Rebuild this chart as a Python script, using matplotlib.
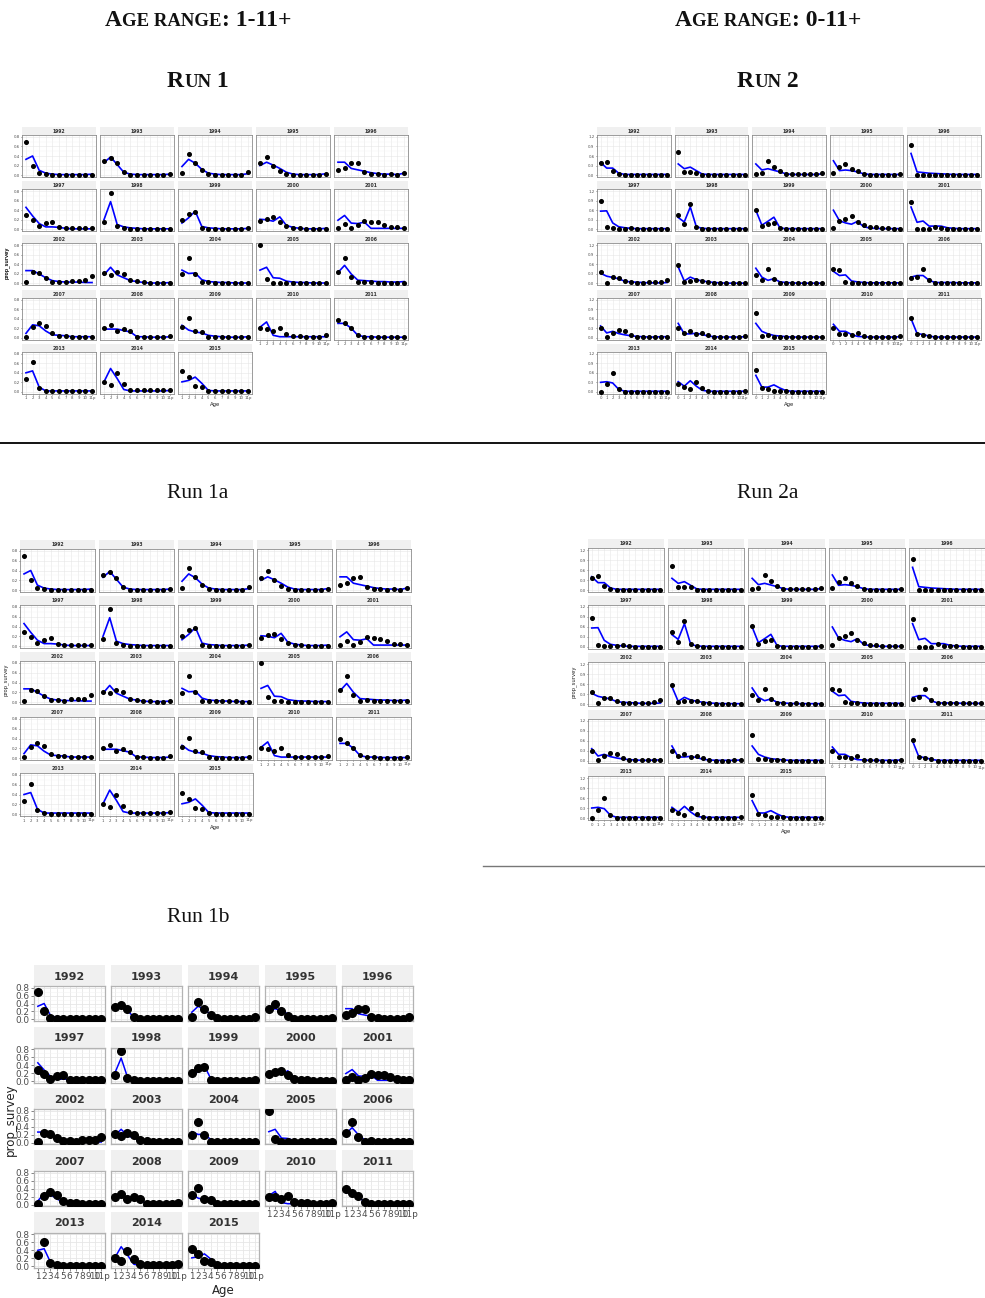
import matplotlib
matplotlib.use("Agg")
import matplotlib.pyplot as plt
import numpy as np

W, H = 985, 1298
DPI = 100

# facet years (2012 is missing in the survey)
years = [1992, 1993, 1994, 1995, 1996, 1997, 1998, 1999, 2000, 2001,
         2002, 2003, 2004, 2005, 2006, 2007, 2008, 2009, 2010, 2011,
         2013, 2014, 2015]

ages_run1 = ["1", "2", "3", "4", "5", "6", "7", "8", "9", "10", "11p"]
ages_run2 = ["0", "1", "2", "3", "4", "5", "6", "7", "8", "9", "10", "11p"]

# observed survey proportions, age range 1-11+ (one row per year)
obs_run1 = [
    [0.70, 0.20, 0.04, 0.02, 0.01, 0.01, 0.01, 0.01, 0.01, 0.01, 0.01],
    [0.30, 0.36, 0.25, 0.06, 0.01, 0.01, 0.01, 0.01, 0.01, 0.01, 0.02],
    [0.05, 0.45, 0.26, 0.10, 0.03, 0.01, 0.01, 0.01, 0.01, 0.01, 0.06],
    [0.25, 0.38, 0.20, 0.09, 0.02, 0.01, 0.01, 0.01, 0.01, 0.01, 0.03],
    [0.10, 0.15, 0.25, 0.26, 0.06, 0.03, 0.02, 0.01, 0.02, 0.01, 0.05],
    [0.29, 0.19, 0.06, 0.13, 0.16, 0.04, 0.03, 0.02, 0.02, 0.02, 0.02],
    [0.15, 0.75, 0.07, 0.02, 0.01, 0.01, 0.01, 0.01, 0.01, 0.01, 0.01],
    [0.20, 0.32, 0.36, 0.03, 0.01, 0.01, 0.01, 0.01, 0.01, 0.01, 0.03],
    [0.17, 0.22, 0.25, 0.15, 0.06, 0.03, 0.02, 0.01, 0.01, 0.01, 0.01],
    [0.02, 0.11, 0.03, 0.09, 0.18, 0.16, 0.15, 0.10, 0.05, 0.04, 0.02],
    [0.03, 0.24, 0.22, 0.12, 0.04, 0.04, 0.03, 0.06, 0.06, 0.07, 0.15],
    [0.21, 0.18, 0.24, 0.20, 0.07, 0.05, 0.03, 0.02, 0.01, 0.01, 0.02],
    [0.19, 0.53, 0.20, 0.03, 0.03, 0.02, 0.02, 0.02, 0.02, 0.01, 0.01],
    [0.80, 0.10, 0.02, 0.02, 0.01, 0.01, 0.01, 0.01, 0.01, 0.01, 0.01],
    [0.24, 0.53, 0.14, 0.03, 0.04, 0.03, 0.02, 0.02, 0.02, 0.02, 0.02],
    [0.02, 0.22, 0.31, 0.25, 0.09, 0.04, 0.04, 0.02, 0.02, 0.02, 0.02],
    [0.20, 0.26, 0.15, 0.18, 0.13, 0.02, 0.02, 0.01, 0.01, 0.01, 0.04],
    [0.23, 0.42, 0.14, 0.12, 0.02, 0.01, 0.01, 0.01, 0.01, 0.01, 0.02],
    [0.20, 0.19, 0.15, 0.21, 0.07, 0.03, 0.03, 0.02, 0.02, 0.02, 0.05],
    [0.38, 0.30, 0.21, 0.06, 0.02, 0.02, 0.01, 0.01, 0.01, 0.01, 0.02],
    [0.27, 0.62, 0.08, 0.02, 0.01, 0.01, 0.01, 0.01, 0.01, 0.01, 0.01],
    [0.20, 0.14, 0.39, 0.17, 0.05, 0.03, 0.03, 0.03, 0.03, 0.03, 0.05],
    [0.43, 0.31, 0.13, 0.11, 0.02, 0.01, 0.01, 0.01, 0.01, 0.01, 0.01],
]

# model fit, age range 1-11+
fit_run1 = [
    [0.33, 0.40, 0.10, 0.04, 0.02, 0.01, 0.01, 0.01, 0.01, 0.01, 0.02],
    [0.26, 0.38, 0.22, 0.06, 0.02, 0.01, 0.01, 0.01, 0.01, 0.01, 0.02],
    [0.18, 0.33, 0.25, 0.12, 0.04, 0.02, 0.01, 0.01, 0.01, 0.01, 0.03],
    [0.20, 0.27, 0.21, 0.14, 0.06, 0.02, 0.01, 0.01, 0.01, 0.01, 0.03],
    [0.27, 0.27, 0.14, 0.11, 0.08, 0.05, 0.03, 0.02, 0.02, 0.01, 0.04],
    [0.46, 0.28, 0.12, 0.05, 0.05, 0.04, 0.02, 0.01, 0.01, 0.01, 0.01],
    [0.20, 0.58, 0.10, 0.05, 0.03, 0.02, 0.01, 0.01, 0.01, 0.01, 0.01],
    [0.13, 0.24, 0.38, 0.06, 0.03, 0.02, 0.01, 0.01, 0.01, 0.01, 0.02],
    [0.21, 0.20, 0.17, 0.26, 0.08, 0.04, 0.02, 0.01, 0.01, 0.01, 0.02],
    [0.19, 0.29, 0.13, 0.12, 0.15, 0.02, 0.02, 0.02, 0.02, 0.02, 0.02],
    [0.27, 0.27, 0.20, 0.12, 0.06, 0.04, 0.03, 0.03, 0.03, 0.02, 0.02],
    [0.18, 0.34, 0.18, 0.12, 0.06, 0.04, 0.02, 0.01, 0.01, 0.01, 0.02],
    [0.28, 0.21, 0.22, 0.08, 0.04, 0.03, 0.02, 0.02, 0.01, 0.01, 0.01],
    [0.28, 0.34, 0.12, 0.11, 0.05, 0.03, 0.02, 0.02, 0.01, 0.01, 0.01],
    [0.23, 0.38, 0.20, 0.07, 0.06, 0.05, 0.04, 0.04, 0.03, 0.03, 0.04],
    [0.09, 0.27, 0.25, 0.14, 0.06, 0.05, 0.04, 0.02, 0.02, 0.02, 0.02],
    [0.18, 0.18, 0.18, 0.15, 0.12, 0.02, 0.02, 0.01, 0.01, 0.01, 0.02],
    [0.26, 0.16, 0.12, 0.10, 0.05, 0.03, 0.02, 0.01, 0.01, 0.01, 0.02],
    [0.22, 0.33, 0.05, 0.02, 0.02, 0.02, 0.02, 0.02, 0.02, 0.02, 0.02],
    [0.30, 0.30, 0.20, 0.05, 0.02, 0.02, 0.01, 0.01, 0.01, 0.01, 0.01],
    [0.40, 0.44, 0.10, 0.02, 0.02, 0.02, 0.02, 0.02, 0.02, 0.02, 0.02],
    [0.21, 0.49, 0.28, 0.05, 0.02, 0.02, 0.02, 0.02, 0.02, 0.02, 0.03],
    [0.21, 0.24, 0.31, 0.18, 0.03, 0.02, 0.02, 0.02, 0.02, 0.02, 0.02],
]

# observed survey proportions, age range 0-11+
obs_run2 = [
    [0.37, 0.42, 0.13, 0.03, 0.01, 0.01, 0.01, 0.01, 0.01, 0.01, 0.01, 0.01],
    [0.72, 0.09, 0.10, 0.08, 0.01, 0.01, 0.01, 0.01, 0.01, 0.01, 0.01, 0.01],
    [0.02, 0.05, 0.44, 0.26, 0.12, 0.02, 0.02, 0.02, 0.02, 0.02, 0.02, 0.07],
    [0.06, 0.25, 0.36, 0.20, 0.12, 0.03, 0.01, 0.01, 0.01, 0.01, 0.01, 0.03],
    [0.93, 0.01, 0.01, 0.01, 0.01, 0.01, 0.01, 0.01, 0.01, 0.01, 0.01, 0.01],
    [0.88, 0.06, 0.04, 0.02, 0.02, 0.05, 0.02, 0.01, 0.01, 0.01, 0.01, 0.01],
    [0.45, 0.16, 0.78, 0.08, 0.02, 0.01, 0.01, 0.01, 0.01, 0.01, 0.01, 0.01],
    [0.62, 0.10, 0.18, 0.20, 0.03, 0.01, 0.01, 0.01, 0.01, 0.01, 0.01, 0.02],
    [0.05, 0.26, 0.33, 0.42, 0.22, 0.12, 0.07, 0.06, 0.03, 0.03, 0.02, 0.02],
    [0.85, 0.01, 0.01, 0.01, 0.08, 0.04, 0.02, 0.02, 0.01, 0.01, 0.01, 0.01],
    [0.35, 0.02, 0.19, 0.17, 0.09, 0.04, 0.03, 0.02, 0.04, 0.04, 0.05, 0.12],
    [0.57, 0.05, 0.08, 0.10, 0.08, 0.04, 0.02, 0.01, 0.01, 0.01, 0.01, 0.01],
    [0.28, 0.12, 0.45, 0.15, 0.02, 0.02, 0.01, 0.02, 0.01, 0.01, 0.01, 0.01],
    [0.45, 0.43, 0.05, 0.02, 0.02, 0.01, 0.01, 0.01, 0.01, 0.01, 0.01, 0.01],
    [0.16, 0.20, 0.45, 0.12, 0.02, 0.03, 0.03, 0.03, 0.02, 0.02, 0.02, 0.02],
    [0.30, 0.02, 0.15, 0.23, 0.20, 0.08, 0.02, 0.02, 0.02, 0.02, 0.02, 0.02],
    [0.30, 0.14, 0.22, 0.12, 0.14, 0.10, 0.02, 0.01, 0.01, 0.01, 0.02, 0.04],
    [0.77, 0.05, 0.07, 0.03, 0.03, 0.02, 0.01, 0.01, 0.01, 0.01, 0.01, 0.01],
    [0.30, 0.12, 0.12, 0.10, 0.15, 0.04, 0.02, 0.02, 0.01, 0.01, 0.01, 0.04],
    [0.62, 0.12, 0.10, 0.06, 0.01, 0.01, 0.01, 0.01, 0.01, 0.01, 0.01, 0.01],
    [0.01, 0.25, 0.60, 0.10, 0.01, 0.01, 0.01, 0.01, 0.01, 0.01, 0.01, 0.01],
    [0.25, 0.15, 0.10, 0.30, 0.12, 0.04, 0.01, 0.01, 0.01, 0.01, 0.01, 0.04],
    [0.70, 0.12, 0.08, 0.04, 0.03, 0.02, 0.01, 0.01, 0.01, 0.01, 0.01, 0.01],
]

# model fit, age range 0-11+
fit_run2 = [
    [0.40, 0.22, 0.22, 0.06, 0.02, 0.02, 0.02, 0.02, 0.02, 0.02, 0.02, 0.02],
    [0.35, 0.20, 0.25, 0.14, 0.03, 0.02, 0.02, 0.02, 0.02, 0.02, 0.02, 0.02],
    [0.35, 0.16, 0.20, 0.15, 0.10, 0.04, 0.02, 0.02, 0.02, 0.02, 0.02, 0.04],
    [0.45, 0.14, 0.16, 0.14, 0.10, 0.04, 0.02, 0.02, 0.02, 0.02, 0.02, 0.02],
    [0.68, 0.10, 0.08, 0.06, 0.05, 0.04, 0.03, 0.02, 0.02, 0.02, 0.02, 0.02],
    [0.57, 0.58, 0.20, 0.08, 0.05, 0.03, 0.02, 0.02, 0.02, 0.02, 0.02, 0.02],
    [0.37, 0.23, 0.70, 0.08, 0.03, 0.02, 0.02, 0.02, 0.02, 0.02, 0.02, 0.02],
    [0.60, 0.13, 0.25, 0.38, 0.04, 0.02, 0.02, 0.02, 0.02, 0.02, 0.02, 0.02],
    [0.60, 0.27, 0.20, 0.16, 0.25, 0.08, 0.04, 0.03, 0.02, 0.02, 0.02, 0.02],
    [0.70, 0.22, 0.26, 0.10, 0.10, 0.10, 0.05, 0.03, 0.02, 0.02, 0.02, 0.02],
    [0.32, 0.23, 0.19, 0.15, 0.07, 0.05, 0.04, 0.03, 0.02, 0.02, 0.02, 0.03],
    [0.52, 0.08, 0.20, 0.12, 0.08, 0.05, 0.03, 0.02, 0.01, 0.01, 0.01, 0.01],
    [0.48, 0.20, 0.10, 0.15, 0.05, 0.03, 0.02, 0.01, 0.01, 0.01, 0.01, 0.01],
    [0.38, 0.25, 0.27, 0.08, 0.05, 0.03, 0.02, 0.02, 0.02, 0.02, 0.02, 0.02],
    [0.20, 0.25, 0.25, 0.10, 0.03, 0.03, 0.03, 0.03, 0.02, 0.02, 0.02, 0.02],
    [0.37, 0.15, 0.20, 0.13, 0.09, 0.06, 0.04, 0.03, 0.02, 0.02, 0.03, 0.03],
    [0.45, 0.12, 0.12, 0.14, 0.10, 0.05, 0.03, 0.02, 0.02, 0.02, 0.02, 0.03],
    [0.45, 0.20, 0.12, 0.07, 0.05, 0.03, 0.02, 0.02, 0.02, 0.02, 0.02, 0.02],
    [0.42, 0.20, 0.20, 0.10, 0.04, 0.03, 0.02, 0.02, 0.02, 0.02, 0.02, 0.03],
    [0.60, 0.13, 0.10, 0.05, 0.02, 0.02, 0.02, 0.02, 0.02, 0.02, 0.02, 0.02],
    [0.30, 0.32, 0.28, 0.08, 0.02, 0.02, 0.02, 0.02, 0.02, 0.02, 0.02, 0.02],
    [0.32, 0.18, 0.35, 0.18, 0.05, 0.02, 0.02, 0.02, 0.02, 0.02, 0.02, 0.02],
    [0.52, 0.15, 0.15, 0.22, 0.12, 0.04, 0.02, 0.02, 0.02, 0.02, 0.02, 0.02],
]

yticks_run1 = [0.0, 0.2, 0.4, 0.6, 0.8]
yticks_run2 = [0.0, 0.3, 0.6, 0.9, 1.2]

SERIF = "Liberation Serif"


def px_axes(fig, x0, y0, w, h):
    """Axes from pixel box measured from the top-left corner."""
    return fig.add_axes([x0 / W, 1 - (y0 + h) / H, w / W, h / H])


def facet_panel(fig, box, ages, obs, fit, yticks, sty):
    """ggplot-like facet_wrap of survey proportions, 5 columns."""
    left, right, top, pitch, strip_h, plot_h, gap = box
    ncol = 5
    col_w = (right - left - (ncol - 1) * gap) / ncol
    xs = np.arange(len(ages))
    step = yticks[1] - yticks[0]
    minor = [t + step / 2 for t in yticks[:-1]]
    n = len(years)
    for i, year in enumerate(years):
        r, c = divmod(i, ncol)
        x0 = left + c * (col_w + gap)
        y0 = top + r * pitch

        sax = px_axes(fig, x0, y0, col_w, strip_h)
        sax.set_facecolor("#f0f0f0")
        sax.set_xticks([])
        sax.set_yticks([])
        for sp in sax.spines.values():
            sp.set_visible(False)
        sax.text(0.5, 0.45, str(year), ha="center", va="center",
                 fontsize=sty["strip"], weight="bold", color="#333333",
                 transform=sax.transAxes)

        ax = px_axes(fig, x0, y0 + strip_h, col_w, plot_h)
        ax.set_axisbelow(True)
        ax.grid(True, which="major", color="#e6e6e6", lw=sty["grid"])
        ax.grid(True, which="minor", axis="y", color="#f2f2f2", lw=sty["grid"] * 0.6)
        ax.plot(xs, fit[i], color="blue", lw=sty["lw"], zorder=2)
        ax.plot(xs, obs[i], "o", color="black", ms=sty["ms"], zorder=3)
        ax.set_xlim(-0.6, len(ages) - 0.4)
        ax.set_ylim(yticks[0] - step * 0.2, yticks[-1] + step * 0.2)
        ax.set_xticks(xs)
        ax.set_yticks(yticks)
        ax.set_yticks(minor, minor=True)
        ax.tick_params(which="minor", length=0)
        for sp in ax.spines.values():
            sp.set_color(sty["border"])
            sp.set_linewidth(sty["blw"])

        bottom = i + ncol >= n
        if bottom:
            ax.set_xticklabels(ages, fontsize=sty["tick"], color="#4d4d4d")
            ax.tick_params(axis="x", length=sty["tl"], width=0.5, color="#555555",
                           pad=sty["pad"])
        else:
            ax.set_xticklabels([])
            ax.tick_params(axis="x", length=0)
        if c == 0:
            ax.set_yticklabels([f"{t:.1f}" for t in yticks], fontsize=sty["tick"],
                               color="#4d4d4d")
            ax.tick_params(axis="y", length=sty["tl"], width=0.5, color="#555555",
                           pad=sty["pad"])
        else:
            ax.set_yticklabels([])
            ax.tick_params(axis="y", length=0)

    rows = (n - 1) // ncol + 1
    grid_bottom = top + (rows - 1) * pitch + strip_h + plot_h
    fig.text((left + right) / 2 / W, 1 - (grid_bottom + sty["age_dy"]) / H, "Age",
             ha="center", va="center", fontsize=sty["label"], color="#222222")
    mid_y = top + (rows * pitch) / 2
    fig.text(sty["ylab_x"] / W, 1 - mid_y / H, "prop_survey", rotation=90,
             ha="center", va="center", fontsize=sty["label"], color="#222222")


def smallcaps(fig, xc, y_base, parts):
    """Draw (text, size) pieces side by side on one baseline, centred on xc."""
    renderer = fig.canvas.get_renderer()
    texts = [fig.text(0, 1 - y_base / H, s, fontsize=sz, family=SERIF,
                      weight="bold", ha="left", va="baseline", color="#111111")
             for s, sz in parts]
    widths = [t.get_window_extent(renderer).width for t in texts]
    x = xc - sum(widths) / 2
    for t, w in zip(texts, widths):
        t.set_x(x / W)
        x += w


small = {"strip": 3.3, "tick": 2.8, "label": 3.8, "lw": 1.2, "ms": 2.6,
         "grid": 0.4, "border": "#8c8c8c", "blw": 0.6, "tl": 1.0, "pad": 0.8,
         "age_dy": 11, "ylab_x": 7}
large = {"strip": 8, "tick": 6.4, "label": 8.5, "lw": 1.1, "ms": 5.5,
         "grid": 0.6, "border": "#b3b3b3", "blw": 0.9, "tl": 2.0, "pad": 1.0,
         "age_dy": 23, "ylab_x": 10}

fig = plt.figure(figsize=(W / DPI, H / DPI), dpi=DPI)

# headers
smallcaps(fig, 198, 26, [("A", 17), ("GE RANGE", 13.5), (": 1-11+", 17)])
smallcaps(fig, 198, 87, [("R", 17), ("UN", 13.5), (" 1", 17)])
smallcaps(fig, 768, 26, [("A", 17), ("GE RANGE", 13.5), (": 0-11+", 17)])
smallcaps(fig, 768, 87, [("R", 17), ("UN", 13.5), (" 2", 17)])
for label, xc, yb in [("Run 1a", 198, 498), ("Run 2a", 768, 498), ("Run 1b", 198, 922)]:
    fig.text(xc / W, 1 - yb / H, label, ha="center", va="baseline",
             fontsize=15.5, family=SERIF, color="#111111")

# separators
fig.add_artist(plt.Line2D([0, 1], [1 - 443 / H] * 2, color="black", lw=1.3))
fig.add_artist(plt.Line2D([483 / W, 1], [1 - 866 / H] * 2, color="#777777", lw=1.0))

# box: left, right, top, row pitch, strip height, plot height, column gap
facet_panel(fig, (22, 408, 127, 54.2, 8, 42, 4), ages_run1, obs_run1, fit_run1,
            yticks_run1, small)
facet_panel(fig, (597, 981, 127, 54.2, 8, 42, 4), ages_run2, obs_run2, fit_run2,
            yticks_run2, small)
facet_panel(fig, (20, 411, 540, 56, 9, 43, 4), ages_run1, obs_run1, fit_run1,
            yticks_run1, dict(small, ylab_x=6))
facet_panel(fig, (588, 985, 539, 57, 9, 44, 4), ages_run2, obs_run2, fit_run2,
            yticks_run2, dict(small, ylab_x=574))
facet_panel(fig, (34, 413, 965, 61.7, 21, 35, 6), ages_run1, obs_run1, fit_run1,
            yticks_run1, large)

fig.savefig("out.png", dpi=DPI)
